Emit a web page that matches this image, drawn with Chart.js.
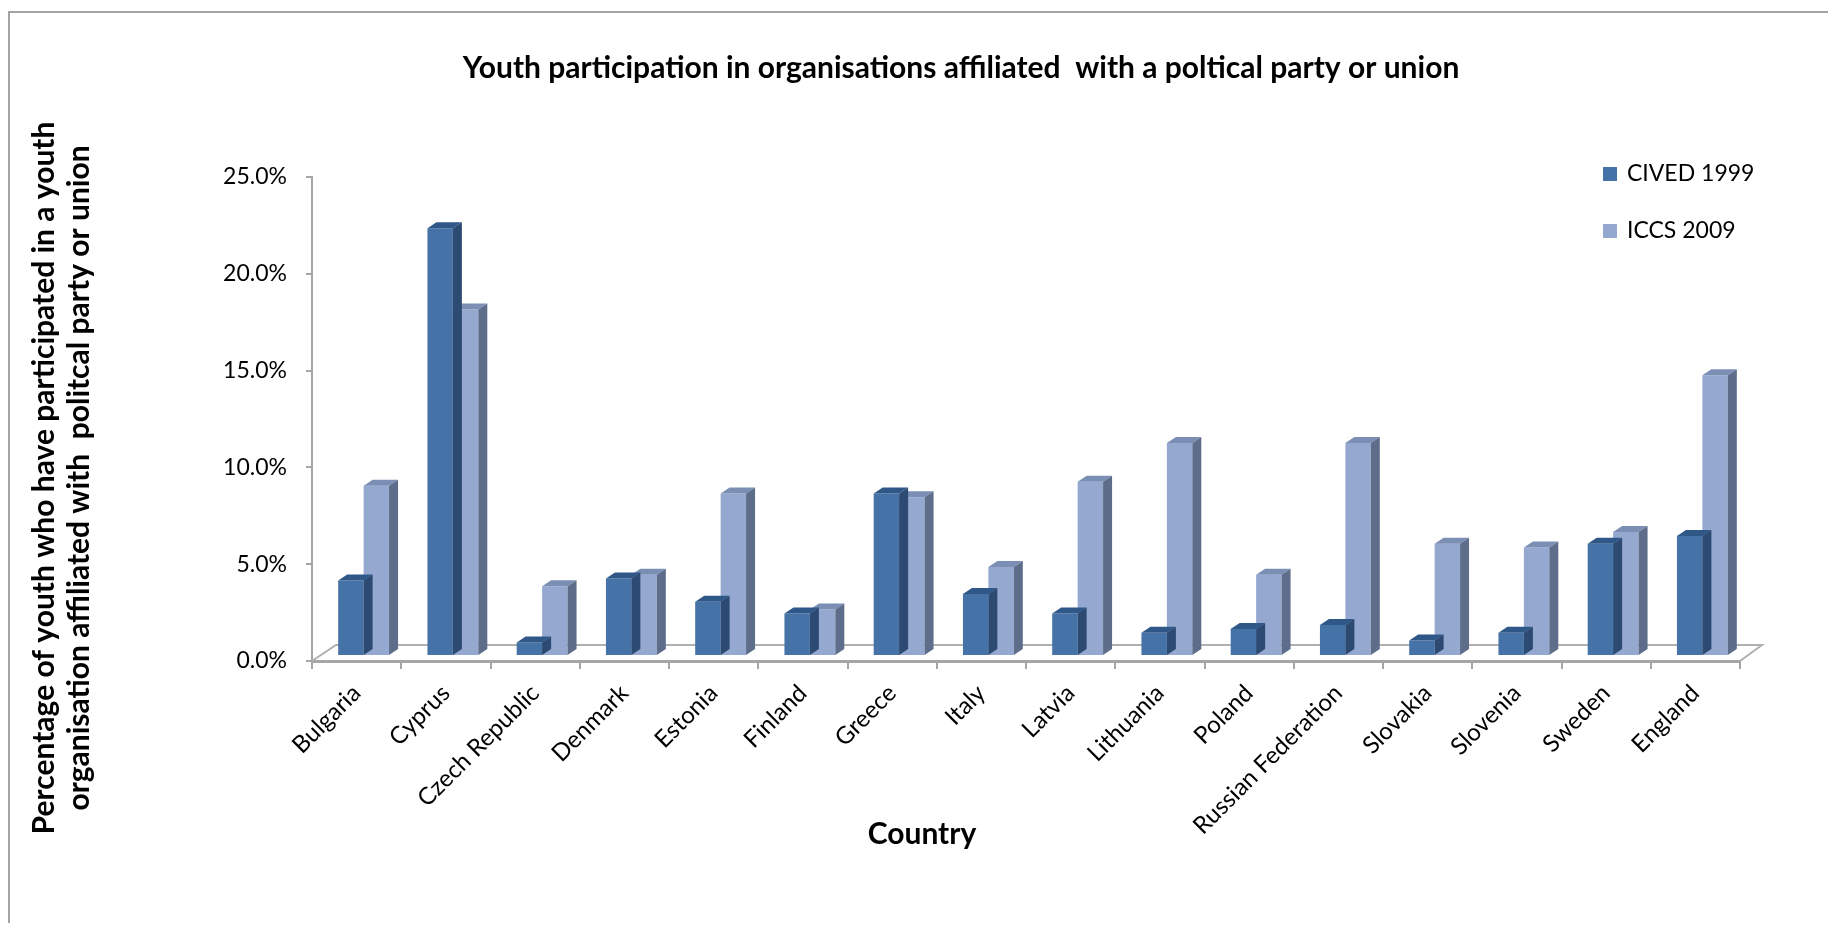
<!DOCTYPE html>
<html>
<head>
<meta charset="utf-8">
<title>Youth participation</title>
<script src="https://cdn.jsdelivr.net/npm/chart.js@4.4.0/dist/chart.umd.min.js"></script>
<style>
    html, body { margin: 0; padding: 0; background: #fff; overflow: hidden; }
    #frame { position: absolute; left: 8px; top: 11px; width: 1830px; height: 910px;
             border-left: 2px solid #a3a3a3; border-top: 2px solid #a3a3a3; }
    #wrap { position: absolute; left: 0; top: 0; width: 1828px; height: 932px; }
</style>
</head>
<body>
<div id="frame"></div>
<div id="wrap"><canvas id="chart" width="1828" height="932"></canvas></div>
<script>
var chartTitle = "Youth participation in organisations affiliated  with a poltical party or union";
var yTitle = ["Percentage of youth who have participated in a youth",
              "organisation affiliated with  politcal party or union"];
var xTitle = "Country";

var countries = ["Bulgaria", "Cyprus", "Czech Republic", "Denmark", "Estonia", "Finland",
                 "Greece", "Italy", "Latvia", "Lithuania", "Poland", "Russian Federation",
                 "Slovakia", "Slovenia", "Sweden", "England"];
var seriesNames = ["CIVED 1999", "ICCS 2009"];
var cived1999 = [3.9, 22.1, 0.7, 4.0, 2.8, 2.2, 8.4, 3.2, 2.2, 1.2, 1.4, 1.6, 0.8, 1.2, 5.8, 6.2];
var iccs2009 = [8.8, 17.9, 3.6, 4.2, 8.4, 2.4, 8.2, 4.6, 9.0, 11.0, 4.2, 11.0, 5.8, 5.6, 6.4, 14.5];
var yTicks = [0, 5, 10, 15, 20, 25];

// face colours for the fake 3D look
var frontColors = ["#4572a7", "#95a9d0"];
var topColors = ["#2f5788", "#7b8eb4"];
var sideColors = ["#2c4a72", "#5d6d8a"];
var depthX = 9, depthY = 6;
var shiftX = 7, shiftY = -5;
var font = "Lato";

var threeD = {
    id: "threeD",
    beforeDatasetsDraw: function (chart) {
        var ctx = chart.ctx, area = chart.chartArea;
        var y0 = chart.scales.y.getPixelForValue(0);
        ctx.save();
        ctx.strokeStyle = "#b0b0b0";
        ctx.lineWidth = 2;
        ctx.beginPath();
        ctx.moveTo(area.left, y0);
        ctx.lineTo(area.left + 24, y0 - 16);
        ctx.lineTo(area.right + 22, y0 - 16);
        ctx.lineTo(area.right, y0);
        ctx.stroke();
        ctx.restore();
        ctx.save();
        ctx.translate(shiftX, shiftY);
    },
    afterDatasetDraw: function (chart, args) {
        var ctx = chart.ctx;
        var i = args.index;
        args.meta.data.forEach(function (bar) {
            var p = bar.getProps(["x", "y", "base", "width"], true);
            var l = p.x - p.width / 2, r = p.x + p.width / 2;
            ctx.fillStyle = topColors[i];
            ctx.beginPath();
            ctx.moveTo(l, p.y);
            ctx.lineTo(l + depthX, p.y - depthY);
            ctx.lineTo(r + depthX, p.y - depthY);
            ctx.lineTo(r, p.y);
            ctx.closePath();
            ctx.fill();
            ctx.fillStyle = sideColors[i];
            ctx.beginPath();
            ctx.moveTo(r, p.y);
            ctx.lineTo(r + depthX, p.y - depthY);
            ctx.lineTo(r + depthX, p.base - depthY);
            ctx.lineTo(r, p.base);
            ctx.closePath();
            ctx.fill();
        });
    },
    afterDatasetsDraw: function (chart) {
        chart.ctx.restore();
    }
};

var extraText = {
    id: "extraText",
    afterDraw: function (chart) {
        var ctx = chart.ctx, area = chart.chartArea;
        ctx.save();
        ctx.fillStyle = "#000";
        ctx.textBaseline = "middle";

        // legend, stacked in the top right corner
        ctx.font = "23px " + font;
        chart.data.datasets.forEach(function (ds, i) {
            var y = 174 + i * 57;
            ctx.fillStyle = ds.backgroundColor;
            ctx.fillRect(area.right - 137, y - 7, 14, 14);
            ctx.fillStyle = "#000";
            ctx.textAlign = "left";
            ctx.fillText(ds.label, area.right - 113, y);
        });

        // axis titles
        ctx.font = "bold 30px " + font;
        ctx.textAlign = "center";
        ctx.fillText(xTitle, 922, 834);
        ctx.textBaseline = "alphabetic";
        yTitle.forEach(function (line, i) {
            ctx.save();
            ctx.translate(54 + i * 35, 478);
            ctx.rotate(-Math.PI / 2);
            ctx.fillText(line, 0, 0);
            ctx.restore();
        });
        ctx.restore();
    }
};

var ctx = document.getElementById("chart").getContext("2d");
var chart = new Chart(ctx, {
    type: "bar",
    data: {
        labels: countries,
        datasets: [{
            label: seriesNames[0],
            data: cived1999,
            backgroundColor: frontColors[0],
            borderWidth: 0,
            categoryPercentage: 0.57,
            barPercentage: 1.0
        }, {
            label: seriesNames[1],
            data: iccs2009,
            backgroundColor: frontColors[1],
            borderWidth: 0,
            categoryPercentage: 0.57,
            barPercentage: 1.0
        }]
    },
    options: {
        responsive: false,
        animation: false,
        layout: { padding: { left: 182, right: 88, top: 0, bottom: 0 } },
        plugins: {
            legend: { display: false },
            tooltip: { enabled: false },
            title: {
                display: true,
                text: chartTitle,
                color: "#000",
                font: { family: font, size: 30, weight: "bold" },
                padding: { top: 50, bottom: 91 }
            }
        },
        scales: {
            x: {
                afterFit: function (s) { s.height = 271; },
                grid: { drawOnChartArea: false, tickLength: 8, color: "#a6a6a6", lineWidth: 2, offset: true },
                border: { color: "#a6a6a6", width: 3 },
                ticks: {
                    color: "#000",
                    font: { family: font, size: 24 },
                    minRotation: 45,
                    maxRotation: 45,
                    autoSkip: false,
                    padding: 10
                }
            },
            y: {
                min: yTicks[0],
                max: yTicks[yTicks.length - 1],
                afterFit: function (s) { s.width = 130; },
                afterBuildTicks: function (s) {
                    s.ticks = yTicks.map(function (v) { return { value: v }; });
                },
                grid: { drawOnChartArea: false, tickLength: 6, color: "#a6a6a6", lineWidth: 2 },
                border: { color: "#a6a6a6", width: 2 },
                ticks: {
                    color: "#000",
                    font: { family: font, size: 23 },
                    padding: 19,
                    callback: function (v) { return v.toFixed(1) + "%"; }
                }
            }
        }
    },
    plugins: [threeD, extraText]
});
</script>
</body>
</html>
